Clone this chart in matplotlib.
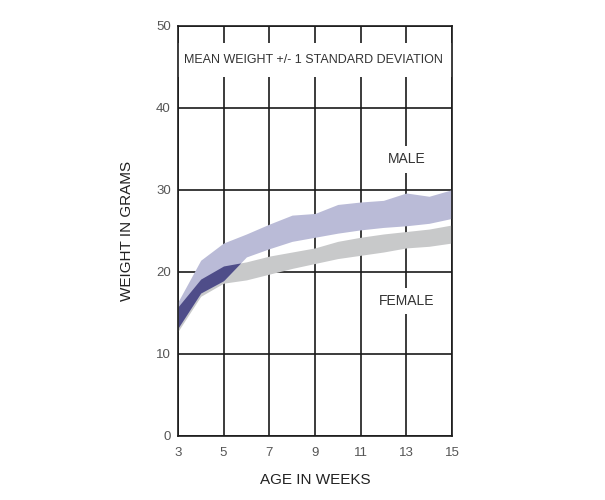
import numpy as np
import matplotlib
matplotlib.use("Agg")
from matplotlib import pyplot as plt

plt.rcParams['font.family'] = ['Liberation Sans', 'DejaVu Sans']

# age in weeks and mean +/- 1 sd bands (grams)
weeks = [3, 4, 5, 6, 7, 8, 9, 10, 11, 12, 13, 14, 15]
male_upper = [16.3, 21.4, 23.5, 24.6, 25.8, 26.9, 27.1, 28.2, 28.5, 28.7, 29.6, 29.2, 30.0]
male_lower = [13.1, 17.4, 18.9, 21.8, 22.8, 23.7, 24.2, 24.7, 25.1, 25.4, 25.6, 25.9, 26.5]
female_upper = [15.7, 19.1, 20.7, 21.2, 21.9, 22.4, 22.9, 23.7, 24.2, 24.6, 24.9, 25.2, 25.7]
female_lower = [12.7, 17.0, 18.6, 19.0, 19.7, 20.4, 21.0, 21.6, 22.0, 22.4, 22.9, 23.1, 23.5]

x_ticks = [3, 5, 7, 9, 11, 13, 15]
y_ticks = [0, 10, 20, 30, 40, 50]

fig = plt.figure(figsize=(6.05, 5), dpi=100)
ax = fig.add_axes([0.294, 0.1286, 0.453, 0.82])

# female band, male band, then the overlap in dark purple
ax.fill_between(weeks, female_lower, female_upper, color="#c8c9ca", lw=0, zorder=2)
ax.fill_between(weeks, male_lower, male_upper, color="#babbd7", lw=0, zorder=2)
ov_lo = np.maximum(male_lower, female_lower)
ov_hi = np.minimum(male_upper, female_upper)
ax.fill_between(weeks, ov_lo, ov_hi, where=ov_hi > ov_lo, interpolate=True,
                color="#4f4d89", lw=0, zorder=2)

ax.set_xlim(3, 15)
ax.set_ylim(0, 50)
ax.set_xticks(x_ticks)
ax.set_yticks(y_ticks)
ax.grid(True, color="#1a1a1a", lw=1.2, zorder=1)
ax.set_axisbelow(True)
ax.tick_params(length=0, labelsize=9.5, labelcolor="#555555")
ax.tick_params(axis="x", pad=8)
ax.tick_params(axis="y", pad=5)
for s in ax.spines.values():
    s.set_linewidth(1.2)
    s.set_color("#1a1a1a")
    s.set_zorder(5)

ax.set_xlabel("AGE IN WEEKS", fontsize=11, color="#222222", labelpad=10)
ax.set_ylabel("WEIGHT IN GRAMS", fontsize=11, color="#222222")
ax.yaxis.set_label_coords(-0.16, 0.5)

ax.text(8.94, 45.8, "MEAN WEIGHT +/- 1 STANDARD DEVIATION", fontsize=9,
        color="#333333", ha="center", va="center", zorder=3,
        bbox=dict(facecolor="white", edgecolor="none", pad=8))
small_box = dict(facecolor="white", edgecolor="none", pad=4.5)
ax.text(13, 33.7, "MALE", fontsize=10, color="#333333", ha="center",
        va="center", bbox=small_box, zorder=3)
ax.text(13, 16.4, "FEMALE", fontsize=10, color="#333333", ha="center",
        va="center", bbox=small_box, zorder=3)

fig.savefig("out.png", dpi=100)
